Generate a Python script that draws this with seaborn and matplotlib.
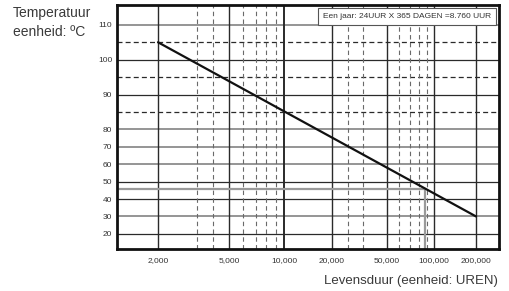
import numpy as np
import matplotlib
matplotlib.use("Agg")
import matplotlib.pyplot as plt
import seaborn as sns
import pandas as pd
from matplotlib.ticker import FixedLocator, FixedFormatter, NullLocator

# ---------------- data ----------------
life_hours = [2000, 200000]          # lifetime (hours)
temperature = [105, 30]              # temperature (deg C)
ref_hours = 87600                    # 10 years
ref_temp = 46

y_ticks = [20, 30, 40, 50, 60, 70, 80, 90, 100, 110]
y_tick_labels = ["20", "30", "40", "50", "60", "70", "80", "90", "100", "110"]
y_grid_gray = [30, 60, 70, 80, 110]
y_grid_dark = [20, 40, 50, 90, 100]
y_dashed = [85, 95, 105]

x_ticks = [2000, 5000, 10000, 20000, 50000, 100000, 200000]
x_tick_labels = ["2,000", "5,000", "10,000", "20,000", "50,000", "100,000", "200,000"]
x_dashed = [3000, 4000, 6000, 7000, 8000, 9000, 30000, 40000,
            60000, 70000, 80000, 90000]

note_text = "Een jaar: 24UUR X 365 DAGEN =8.760 UUR"
y_title = "Temperatuur\neenheid: ºC"
x_title = "Levensduur (eenheid: UREN)"

# ---------------- custom (hand-drawn) scales ----------------
XA_LOG = np.log10([1000, 2000, 3000, 4000, 5000, 10000, 20000, 30000, 40000,
                   50000, 100000, 200000, 400000])
XA_POS = np.array([104, 158, 197, 213, 229, 284, 332, 348, 363, 387, 434, 476, 519], float)


def x_fwd(x):
    x = np.asarray(x, float)
    return np.interp(np.log10(np.clip(x, 1e-9, None)), XA_LOG, XA_POS,
                     left=None, right=None)


def x_inv(p):
    p = np.asarray(p, float)
    return 10 ** np.interp(p, XA_POS, XA_LOG)


def y_fwd(v):
    v = np.asarray(v, float)
    return np.where(v < 80, v, 80 + 2.0 * (v - 80))


def y_inv(u):
    u = np.asarray(u, float)
    return np.where(u < 80, u, 80 + (u - 80) / 2.0)


# ---------------- figure ----------------
sns.set_theme(style="white")
plt.rcParams["font.family"] = ["Liberation Sans", "DejaVu Sans"]

W, H = 510, 291
fig = plt.figure(figsize=(W / 100, H / 100), dpi=100)
ax = fig.add_axes([117 / W, 1 - 249 / H, (499 - 117) / W, (249 - 5) / H])

ax.set_xscale("function", functions=(x_fwd, x_inv))
ax.set_yscale("function", functions=(y_fwd, y_inv))
ax.set_xlim(float(x_inv(117)), float(x_inv(499)))
ax.set_ylim(11.3, 115.7)

dark = "#2a2a2a"
gray = "#8c8c8c"

for y in y_grid_gray:
    ax.axhline(y, color=gray, lw=1.3, zorder=1)
for y in y_grid_dark:
    ax.axhline(y, color=dark, lw=0.9, zorder=1)
for y in y_dashed:
    ax.axhline(y, color=dark, lw=0.9, ls=(0, (4, 2.5)), zorder=1)
for x in x_ticks:
    ax.axvline(x, color=dark, lw=1.0 if x != 10000 else 1.4, zorder=1)
for x in x_dashed:
    ax.axvline(x, color="#6a6a6a", lw=0.8, ls=(0, (4, 3)), zorder=1)

# reference lines (10 years)
xmin, _ = ax.get_xlim()
ymin, _ = ax.get_ylim()
ax.plot([xmin, ref_hours, ref_hours], [ref_temp, ref_temp, ymin],
        color="#9a9a9a", lw=1.6, zorder=2, solid_joinstyle="miter")

df = pd.DataFrame({"hours": life_hours, "temp": temperature})
sns.lineplot(data=df, x="hours", y="temp", ax=ax, color="#111111", lw=1.6,
             zorder=3, legend=False)

ax.xaxis.set_major_locator(FixedLocator(x_ticks))
ax.xaxis.set_major_formatter(FixedFormatter(x_tick_labels))
ax.xaxis.set_minor_locator(NullLocator())
ax.yaxis.set_major_locator(FixedLocator(y_ticks))
ax.yaxis.set_major_formatter(FixedFormatter(y_tick_labels))
ax.yaxis.set_minor_locator(NullLocator())
ax.tick_params(axis="both", length=0, labelsize=6, labelcolor="#333333")
ax.tick_params(axis="x", pad=6)
ax.tick_params(axis="y", pad=3.5)
ax.set_xlabel("")
ax.set_ylabel("")

for s in ax.spines.values():
    s.set_visible(True)
    s.set_color("#111111")
    s.set_linewidth(2.0)
    s.set_zorder(5)

ax.text(0.979, 0.967, note_text, transform=ax.transAxes, ha="right", va="top",
        fontsize=6, color="#333333", zorder=6,
        bbox=dict(boxstyle="square,pad=0.6", fc="white", ec="#555555", lw=0.8))

fig.text(13 / W, 1 - 6 / H, y_title, ha="left", va="top", fontsize=10,
         linespacing=1.45, color="#3a3a3a")
fig.text(498 / W, 1 - 281 / H, x_title, ha="right", va="center", fontsize=9.5,
         color="#3a3a3a")

fig.savefig("out.png", dpi=100)
